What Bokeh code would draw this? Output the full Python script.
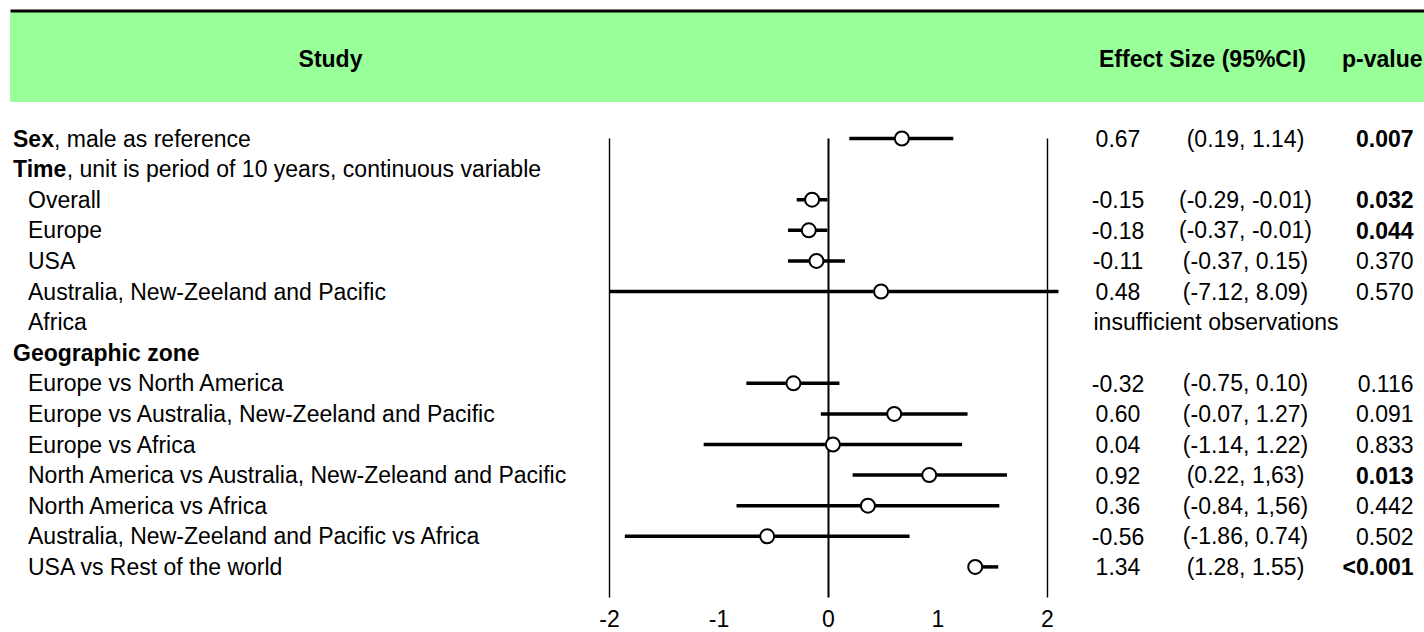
import numpy as np
from bokeh.plotting import figure
from bokeh.models import Range1d, ColumnDataSource
from bokeh.core.properties import value
from bokeh.embed import file_html
from bokeh.resources import INLINE

# ---------------- data ----------------
row_labels = [
    "Sex", "Time", "Overall", "Europe", "USA",
    "Australia, New-Zeeland and Pacific", "Africa", "Geographic zone",
    "Europe vs North America",
    "Europe vs Australia, New-Zeeland and Pacific",
    "Europe vs Africa",
    "North America vs Australia, New-Zeleand and Pacific",
    "North America vs Africa",
    "Australia, New-Zeeland and Pacific vs Africa",
    "USA vs Rest of the world",
]
row_suffix = [", male as reference", ", unit is period of 10 years, continuous variable"] + [""] * 13
is_heading = [True, True, False, False, False, False, False, True,
              False, False, False, False, False, False, False]
effect = [0.67, np.nan, -0.15, -0.18, -0.11, 0.48, np.nan, np.nan,
          -0.32, 0.60, 0.04, 0.92, 0.36, -0.56, 1.34]
ci_low = [0.19, np.nan, -0.29, -0.37, -0.37, -7.12, np.nan, np.nan,
          -0.75, -0.07, -1.14, 0.22, -0.84, -1.86, 1.28]
ci_high = [1.14, np.nan, -0.01, -0.01, 0.15, 8.09, np.nan, np.nan,
           0.10, 1.27, 1.22, 1.63, 1.56, 0.74, 1.55]
ci_text = ["(0.19, 1.14)", "", "(-0.29, -0.01)", "(-0.37, -0.01)", "(-0.37, 0.15)",
           "(-7.12, 8.09)", "", "", "(-0.75, 0.10)", "(-0.07, 1.27)", "(-1.14, 1.22)",
           "(0.22, 1,63)", "(-0.84, 1,56)", "(-1.86, 0.74)", "(1.28, 1.55)"]
p_text = ["0.007", "", "0.032", "0.044", "0.370", "0.570", "", "",
          "0.116", "0.091", "0.833", "0.013", "0.442", "0.502", "<0.001"]
p_bold = [True, False, True, True, False, False, False, False,
          False, False, False, True, False, False, True]
note_text = ["", "", "", "", "", "", "insufficient observations", "",
             "", "", "", "", "", "", ""]
headers = ["Study", "Effect Size (95%CI)", "p-value"]
ticks = [-2, -1, 0, 1, 2]
ref_lines = [-2, 0, 2]
x_window = (-2.0, 2.1)

# ---------------- layout constants ----------------
W, H = 1424, 632
PX0, PY0 = 0, 0
ZERO_PX, UNIT_PX = 828.0, 109.5
ROW0_PX, ROW_PX = 138.0, 30.6
FONT = value("Liberation Sans")
FS = "23px"

n = len(row_labels)
rows = np.arange(n)

p = figure(
    width=W, height=H, output_backend="svg", toolbar_location=None,
    x_axis_location=None, y_axis_location=None, min_border=0,
    outline_line_color=None, background_fill_color="white",
    x_range=Range1d((PX0 - ZERO_PX) / UNIT_PX, (PX0 + W - ZERO_PX) / UNIT_PX),
    y_range=Range1d((PY0 + H - ROW0_PX) / ROW_PX, (PY0 - ROW0_PX) / ROW_PX),
)
p.extra_x_ranges = {"page": Range1d(PX0, PX0 + W)}
p.extra_y_ranges = {"page": Range1d(PY0 + H, PY0)}
p.grid.visible = False

# header band
p.quad(left=10, right=PX0 + W, top=12, bottom=101, color="#99ff99",
       x_range_name="page", y_range_name="page")
p.segment(x0=10, x1=PX0 + W, y0=10.5, y1=10.5, line_color="black", line_width=3,
          x_range_name="page", y_range_name="page")
p.text(x=[330, 1202, 1422], y=[58, 58, 58], text=headers,
       text_align=["center", "center", "right"], text_baseline="middle",
       text_font=FONT, text_font_size=FS, text_font_style="bold", text_color="black",
       x_range_name="page", y_range_name="page")

# reference lines
p.segment(x0=ref_lines, x1=ref_lines, y0=0, y1=n,
          line_color="black", line_width=[1.4, 2.0, 1.4])

# tick labels
p.text(x=ticks, y=[617.5] * len(ticks), text=[str(t) for t in ticks],
       text_align="center", text_baseline="middle",
       text_font=FONT, text_font_size=FS, text_color="black", y_range_name="page")

# CI segments and points
eff = np.array(effect, dtype=float)
lo = np.array(ci_low, dtype=float)
hi = np.array(ci_high, dtype=float)
m = ~np.isnan(eff)
seg = ColumnDataSource(dict(x0=np.clip(lo[m], *x_window), x1=np.clip(hi[m], *x_window),
                            y=rows[m], e=eff[m]))
p.segment(x0="x0", x1="x1", y0="y", y1="y", source=seg, line_color="black", line_width=3.5)
p.scatter(x="e", y="y", source=seg, marker="circle", size=14,
          fill_color="white", line_color="black", line_width=2)

# left labels
label_x = [12.5 if h else 27.5 for h in is_heading]
bold_rows = [i for i in range(n) if is_heading[i]]
norm_rows = [i for i in range(n) if not is_heading[i]]
p.text(x=[label_x[i] for i in bold_rows], y=[int(i) for i in bold_rows],
       text=[row_labels[i] for i in bold_rows], text_baseline="middle",
       text_font=FONT, text_font_size=FS, text_font_style="bold", text_color="black",
       x_range_name="page")
p.text(x=[label_x[i] for i in norm_rows], y=[int(i) for i in norm_rows],
       text=[row_labels[i] for i in norm_rows], text_baseline="middle",
       text_font=FONT, text_font_size=FS, text_color="black", x_range_name="page")
suffix_rows = [i for i in range(n) if row_suffix[i]]
suffix_x = [53.5, 66.2]
p.text(x=suffix_x, y=suffix_rows, text=[row_suffix[i] for i in suffix_rows],
       text_baseline="middle", text_font=FONT, text_font_size=FS, text_color="black",
       x_range_name="page")

# right table
eff_txt = [f"{v:.2f}" if not np.isnan(v) else "" for v in eff]
p.text(x=[1117.5] * n, y=rows, text=eff_txt, text_align="center", text_baseline="middle",
       text_font=FONT, text_font_size=FS, text_color="black", x_range_name="page")
p.text(x=[1245] * n, y=rows, text=ci_text, text_align="center", text_baseline="middle",
       text_font=FONT, text_font_size=FS, text_color="black", x_range_name="page")
pb = [i for i in range(n) if p_bold[i]]
pn = [i for i in range(n) if not p_bold[i] and p_text[i]]
p.text(x=[1413] * len(pb), y=pb, text=[p_text[i] for i in pb], text_align="right",
       text_baseline="middle", text_font=FONT, text_font_size=FS, text_font_style="bold",
       text_color="black", x_range_name="page")
p.text(x=[1413] * len(pn), y=pn, text=[p_text[i] for i in pn], text_align="right",
       text_baseline="middle", text_font=FONT, text_font_size=FS, text_color="black",
       x_range_name="page")
nr = [i for i in range(n) if note_text[i]]
p.text(x=[1093] * len(nr), y=nr, text=[note_text[i] for i in nr], text_align="left",
       text_baseline="middle", text_font=FONT, text_font_size=FS, text_color="black",
       x_range_name="page")

open("out.html", "w").write(file_html(p, INLINE))
